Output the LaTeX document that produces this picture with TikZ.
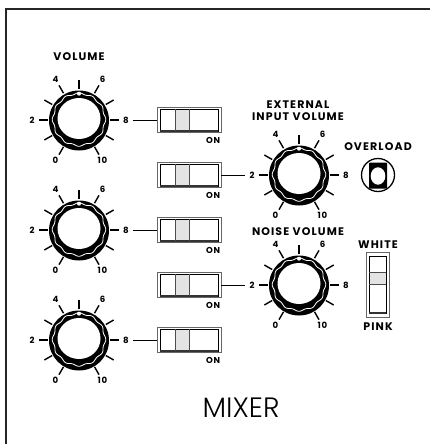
\documentclass[tikz,border=0pt]{standalone}
\usepackage{fontspec}
\setmainfont{Poppins}
\newfontfamily\lblfont{Poppins}[LetterSpace=10]
\newfontfamily\mixfont{Poppins Light}
\begin{document}
\begin{tikzpicture}[x=1pt,y=-1pt,
  ttl/.style={font=\lblfont\bfseries\fontsize{11}{11.5}\selectfont, inner sep=0},
  num/.style={font=\lblfont\bfseries\fontsize{8.6}{8}\selectfont, inner sep=0},
  lead/.style={line width=1},
  frame/.style={line width=2.2, black!85},
  knob/.pic={
    \fill (0,0.5) circle (30);
    \fill[white] (0,-1.5) ellipse (21.5 and 20.5);
    \draw[white, line width=0.8] plot[domain=0:360, samples=145, smooth]
      ({(26+0.8*cos(12*\x))*cos(\x)},{(26+0.8*cos(12*\x))*sin(\x)-0.5});
    \fill[white] (0,-26.3) circle (2);
    \foreach \a in {-60,-30,...,240}
      \draw[line width=1.4] ({31*cos(\a)},{-31*sin(\a)}) -- ({40*cos(\a)},{-40*sin(\a)});
    \node[num] (-l0) at ({47*cos(240)},{-47*sin(240)}) {0};
    \node[num] (-l2) at ({47*cos(180)},{-47*sin(180)}) {2};
    \node[num] (-l4) at ({47*cos(120)},{-47*sin(120)}) {4};
    \node[num] (-l6) at ({47*cos(60)},{-47*sin(60)}) {6};
    \node[num] (-l8) at ({47*cos(0)},{-47*sin(0)}) {8};
    \node[num] (-l10) at ({47*cos(-60)},{-47*sin(-60)}) {10};
  },
  hsw/.pic={
    \node[draw=black!60, line width=0.6, minimum width=64, minimum height=25, inner sep=0] (-box) at (0,0) {};
    \fill[gray!22] (-13.5,-11) rectangle (0,11);
    \draw[line width=0.9] (-29,-11) rectangle (29,11);
    \draw[line width=1.6, black!80] (-29,11) -- (29,11);
    \draw[line width=0.7, black!70] (-13.5,-11) -- (-13.5,11) (0,-11) -- (0,11);
  }]
\useasboundingbox (0,0) rectangle (429,444);
\draw[frame] (6,446) -- (6,9) -- (431,9);

% knobs
\pic (k1) at (79,120) {knob};
\pic (k2) at (79,230) {knob};
\pic (k3) at (79,340) {knob};
\pic (ke) at (299,175) {knob};
\pic (kn) at (299,285) {knob};

% switches
\pic (s1) at (189,120) {hsw};
\pic (s2) at (189,175) {hsw};
\pic (s3) at (189,230) {hsw};
\pic (s4) at (189,285) {hsw};
\pic (s5) at (189,340) {hsw};

\foreach \s in {s1,s2,s3,s4,s5}
  \path (\s-box.south east) ++(-1,4) node[num, anchor=north east] (\s-on) {ON};

% leads
\draw[lead, shorten <=4pt] (k1-l8) -- (s1-box);
\draw[lead, shorten <=4pt] (k2-l8) -- (s3-box);
\draw[lead, shorten <=4pt] (k3-l8) -- (s5-box);
\draw[lead, shorten >=4pt] (s2-box) -- (ke-l2);
\draw[lead, shorten >=4pt] (s4-box) -- (kn-l2);

% titles
\node[ttl] (tvol) at (79,57) {VOLUME};
\node[ttl, align=center] (text) at (298,110.5) {EXTERNAL\\INPUT VOLUME};
\node[ttl] (tnoise) at (298,232) {NOISE VOLUME};
\node[ttl] (tover) at (378,147) {OVERLOAD};
\node[ttl] (twhite) at (378,245) {WHITE};
\node[ttl] (tpink) at (378,327) {PINK};

% overload jack
\node[circle, draw, line width=1.3, minimum size=33, inner sep=0] (jack) at (378,175) {};
\fill[rounded corners=1] (369,162.5) rectangle (387,188.5);
\fill[white] (378,176) ellipse (7.3 and 8.7);

% white/pink switch
\node[draw=black!60, line width=0.6, minimum width=23, minimum height=65, inner sep=0] (vs) at (377.5,284.5) {};
\fill[gray!22] (369,272) rectangle (386,284);
\draw[line width=0.9] (369,256) rectangle (386,313);
\draw[line width=1.6, black!80] (369,313) -- (386,313);
\draw[line width=0.7, black!70] (369,272) -- (386,272) (369,284) -- (386,284);

% title
\node[font=\mixfont\fontsize{28}{28}\selectfont, inner sep=0] (mixer) at (241,408) {MIXER};
\end{tikzpicture}
\end{document}
